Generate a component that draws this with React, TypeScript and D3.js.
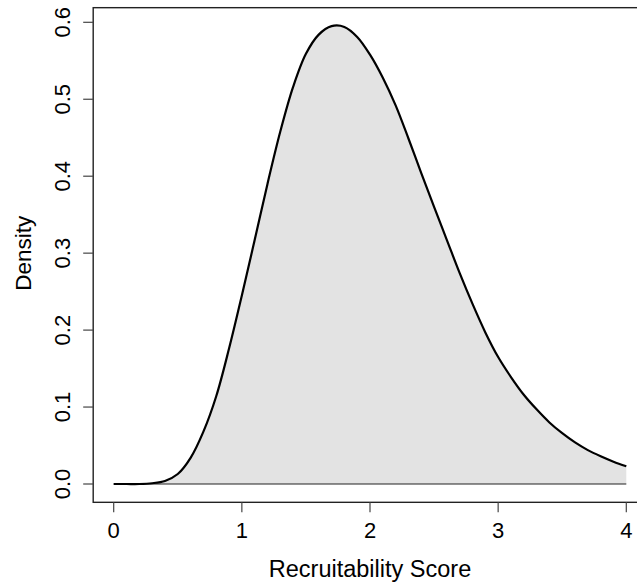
import React, { useEffect, useRef } from 'react';
import * as d3 from 'd3';

// density curve (score -> density)
const scores = [
  0.0, 0.1, 0.2, 0.3, 0.4, 0.5, 0.6, 0.7, 0.8, 0.9,
  1.0, 1.1, 1.2, 1.3, 1.4, 1.5, 1.6, 1.7, 1.8, 1.9,
  2.0, 2.1, 2.2, 2.3, 2.4, 2.5, 2.6, 2.7, 2.8, 2.9,
  3.0, 3.1, 3.2, 3.3, 3.4, 3.5, 3.6, 3.7, 3.8, 3.9, 4.0,
];
const densities = [
  0.0, 0.0, 0.0, 0.001, 0.004, 0.013, 0.034, 0.068, 0.114, 0.176,
  0.245, 0.317, 0.39, 0.458, 0.516, 0.559, 0.584, 0.595, 0.594, 0.581,
  0.558, 0.528, 0.492, 0.449, 0.404, 0.36, 0.317, 0.274, 0.234, 0.197,
  0.165, 0.139, 0.116, 0.097, 0.08, 0.066, 0.054, 0.044, 0.036, 0.029, 0.023,
];

const xTicks = [0, 1, 2, 3, 4];
const yTicks = [0, 0.1, 0.2, 0.3, 0.4, 0.5, 0.6];

const W = 637;
const H = 586;

const App: React.FC = () => {
  const svgRef = useRef<SVGSVGElement>(null);

  useEffect(() => {
    if (!svgRef.current) return;
    const svg = d3.select(svgRef.current);
    svg.selectAll('*').remove();

    const font = 'Liberation Sans, Arial, sans-serif';
    const x = d3.scaleLinear().domain([0, 4]).range([113.7, 626.3]);
    const y = d3.scaleLinear().domain([0, 0.6]).range([484, 22.3]);

    const pts: [number, number][] = scores.map((s, i) => [s, densities[i]]);
    const smooth = d3.curveCatmullRom.alpha(0.5);

    // filled area under the curve
    const area = d3.area<[number, number]>()
      .x(d => x(d[0]))
      .y0(y(0))
      .y1(d => y(Math.max(0, d[1])))
      .curve(smooth);

    svg.append('path')
      .datum(pts)
      .attr('d', area)
      .attr('fill', '#e3e3e3');

    // baseline
    svg.append('line')
      .attr('x1', x(0)).attr('x2', x(4))
      .attr('y1', y(0)).attr('y2', y(0))
      .attr('stroke', '#222')
      .attr('stroke-width', 1.2);

    const line = d3.line<[number, number]>()
      .x(d => x(d[0]))
      .y(d => y(d[1]))
      .curve(smooth);

    svg.append('path')
      .datum(pts)
      .attr('d', line)
      .attr('fill', 'none')
      .attr('stroke', '#000')
      .attr('stroke-width', 2.2);

    // plot box (R style, 4% padding)
    const bx0 = x(-0.16), bx1 = x(4.16);
    const by0 = y(0.619), by1 = y(-0.0238);
    svg.append('rect')
      .attr('x', bx0).attr('y', by0)
      .attr('width', bx1 - bx0).attr('height', by1 - by0)
      .attr('fill', 'none')
      .attr('stroke', '#222')
      .attr('stroke-width', 1.4);

    // x axis ticks
    const gx = svg.append('g');
    gx.selectAll('line')
      .data(xTicks)
      .join('line')
      .attr('x1', d => x(d)).attr('x2', d => x(d))
      .attr('y1', by1).attr('y2', by1 + 10)
      .attr('stroke', '#444')
      .attr('stroke-width', 1.2);
    gx.selectAll('text')
      .data(xTicks)
      .join('text')
      .attr('x', d => x(d))
      .attr('y', 538)
      .attr('text-anchor', 'middle')
      .style('font-family', font)
      .style('font-size', '22px')
      .text(d => String(d));

    // y axis ticks
    const gy = svg.append('g');
    gy.selectAll('line')
      .data(yTicks)
      .join('line')
      .attr('x1', bx0 - 10).attr('x2', bx0)
      .attr('y1', d => y(d)).attr('y2', d => y(d))
      .attr('stroke', '#444')
      .attr('stroke-width', 1.2);
    gy.selectAll('text')
      .data(yTicks)
      .join('text')
      .attr('transform', d => `translate(70,${y(d)}) rotate(-90)`)
      .attr('text-anchor', 'middle')
      .style('font-family', font)
      .style('font-size', '22px')
      .text(d => d.toFixed(1));

    // axis titles
    svg.append('text')
      .attr('x', x(2))
      .attr('y', 576.5)
      .attr('text-anchor', 'middle')
      .style('font-family', font)
      .style('font-size', '23.5px')
      .text('Recruitability Score');

    svg.append('text')
      .attr('transform', `translate(31,${y(0.3)}) rotate(-90)`)
      .attr('text-anchor', 'middle')
      .style('font-family', font)
      .style('font-size', '22.5px')
      .text('Density');
  }, []);

  return (
    <svg
      ref={svgRef}
      width={W}
      height={H}
      style={{ position: 'absolute', left: 0, top: 0, background: '#fff' }}
    />
  );
};

export default App;
